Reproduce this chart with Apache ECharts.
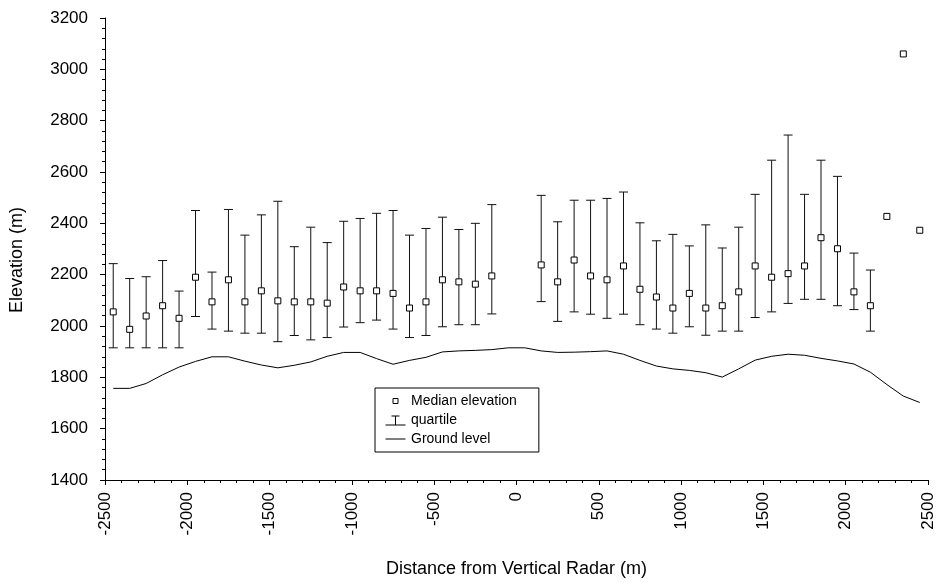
<!DOCTYPE html>
<html>
<head>
<meta charset="utf-8">
<title>Elevation vs distance from vertical radar</title>
<script src="https://cdn.jsdelivr.net/npm/echarts@6/dist/echarts.min.js"></script>
<style>
  html, body { margin: 0; padding: 0; background: #fff; }
  #main { width: 939px; height: 583px; }
</style>
</head>
<body>
<div id="main"></div>
<script>
// bin centres along the profile (m), no bins at -50 / 50
const distances = [
  -2450, -2350, -2250, -2150, -2050, -1950, -1850, -1750, -1650, -1550, -1450, -1350,
  -1250, -1150, -1050, -950, -850, -750, -650, -550, -450, -350, -250, -150,
  150, 250, 350, 450, 550, 650, 750, 850, 950, 1050, 1150, 1250,
  1350, 1450, 1550, 1650, 1750, 1850, 1950, 2050, 2150, 2250, 2350, 2450
];
const medianElev = [
  2055, 1987, 2039, 2079, 2030, 2190, 2094, 2180, 2094, 2137, 2098, 2094,
  2094, 2089, 2152, 2137, 2137, 2127, 2070, 2094, 2180, 2172, 2163, 2195,
  2238, 2172, 2257, 2195, 2180, 2234, 2143, 2113, 2070, 2127, 2070, 2079,
  2133, 2234, 2190, 2204, 2234, 2344, 2301, 2133, 2079, 2427, 3060, 2373
];
const upperQuartile = [
  2243, 2185, 2192, 2255, 2136, 2450, 2210, 2454, 2354, 2433, 2486, 2309,
  2385, 2325, 2408, 2419, 2439, 2450, 2354, 2380, 2424, 2376, 2400, 2473,
  2509, 2406, 2490, 2490, 2497, 2522, 2402, 2332, 2357, 2312, 2394, 2304,
  2385, 2513, 2646, 2744, 2513, 2646, 2583, 2284, 2218, null, null, null
];
const lowerQuartile = [
  1915, 1915, 1915, 1915, 1915, 2037, 1988, 1980, 1972, 1972, 1939, 1963,
  1946, 1955, 1996, 2013, 2023, 1988, 1955, 1963, 1997, 2005, 2005, 2047,
  2095, 2018, 2055, 2046, 2030, 2046, 2005, 1988, 1972, 1997, 1964, 1980,
  1980, 2033, 2055, 2088, 2104, 2104, 2079, 2064, 1980, null, null, null
];
// ground profile
const groundX = [
  -2450, -2350, -2250, -2150, -2050, -1950, -1850, -1750, -1650, -1550, -1450, -1350, -1250,
  -1150, -1050, -950, -850, -750, -650, -550, -450, -350, -250, -150, -50,
  50, 150, 250, 350, 450, 550, 650, 750, 850, 950, 1050, 1150, 1250,
  1350, 1450, 1550, 1650, 1750, 1850, 1950, 2050, 2150, 2250, 2350, 2450
];
const groundLevel = [
  1757, 1757, 1776, 1810, 1840, 1862, 1880, 1880, 1863, 1848, 1837, 1847, 1860,
  1882, 1897, 1897, 1873, 1851, 1866, 1878, 1899, 1903, 1905, 1908, 1915,
  1915, 1903, 1897, 1898, 1900, 1903, 1890, 1866, 1844, 1833, 1827, 1818, 1801,
  1833, 1867, 1882, 1890, 1886, 1874, 1864, 1852, 1820, 1772, 1727, 1702
];

const font = 'Arial, "Liberation Sans", sans-serif';

const medianData = distances.map((d, i) => [d, medianElev[i]]);
const quartileData = [];
distances.forEach((d, i) => {
  if (upperQuartile[i] != null) quartileData.push([d, lowerQuartile[i], upperQuartile[i]]);
});
const groundData = groundX.map((d, i) => [d, groundLevel[i]]);

const chart = echarts.init(document.getElementById('main'));

const option = {
  animation: false,
  backgroundColor: '#fff',
  textStyle: { fontFamily: font, color: '#000' },
  grid: { left: 100, right: 11, top: 18, bottom: 94 },
  legend: {
    orient: 'vertical',
    left: 375,
    top: 388,
    padding: [6, 22, 6, 10],
    itemGap: 5,
    itemWidth: 21,
    itemHeight: 12,
    borderColor: '#000',
    borderWidth: 1,
    backgroundColor: '#fff',
    textStyle: { fontFamily: font, fontSize: 14, color: '#000' },
    data: [
      {
        name: 'Median elevation',
        icon: 'path://M0,0M20,12M7.5,3.5L12.5,3.5L12.5,8.5L7.5,8.5Z',
        itemStyle: { color: '#fff', borderColor: '#000', borderWidth: 1 }
      },
      {
        name: 'quartile',
        icon: 'path://M0,0M20,12M0,11L20,11M10,11L10,2M6,2L14,2',
        itemStyle: { color: 'transparent', borderColor: '#000', borderWidth: 1 }
      },
      {
        name: 'Ground level',
        icon: 'path://M0,0M20,12M0,6L20,6',
        itemStyle: { color: 'transparent', borderColor: '#000', borderWidth: 1 }
      }
    ]
  },
  xAxis: {
    type: 'value',
    min: -2500,
    max: 2500,
    interval: 500,
    name: 'Distance from Vertical Radar (m)',
    nameLocation: 'middle',
    nameGap: 80,
    nameTextStyle: { fontSize: 18, color: '#000' },
    axisLine: { onZero: false, lineStyle: { color: '#000', width: 1 } },
    axisTick: { inside: false, length: 5, lineStyle: { color: '#000' } },
    minorTick: { show: true, splitNumber: 5, length: 3, lineStyle: { color: '#000' } },
    splitLine: { show: false },
    axisLabel: { rotate: 90, margin: 12, fontSize: 17, color: '#000', formatter: v => String(v) }
  },
  yAxis: {
    type: 'value',
    min: 1400,
    max: 3200,
    interval: 200,
    name: 'Elevation (m)',
    nameLocation: 'middle',
    nameGap: 79,
    nameTextStyle: { fontSize: 18, color: '#000', padding: [0, 0, 0, -22] },
    axisLine: { show: true, onZero: false, lineStyle: { color: '#000', width: 1 } },
    axisTick: { show: true, length: 5, lineStyle: { color: '#000' } },
    minorTick: { show: true, splitNumber: 5, length: 3, lineStyle: { color: '#000' } },
    splitLine: { show: false },
    axisLabel: { margin: 17, fontSize: 17, color: '#000', formatter: v => String(v) }
  },
  series: [
    {
      name: 'Median elevation',
      type: 'scatter',
      z: 5,
      symbol: 'rect',
      symbolSize: 6,
      itemStyle: { color: '#fff', borderColor: '#000', borderWidth: 1, opacity: 1 },
      data: medianData
    },
    {
      name: 'quartile',
      type: 'custom',
      z: 3,
      itemStyle: { color: '#000' },
      encode: { x: 0, y: [1, 2] },
      renderItem: function (params, api) {
        const x = api.value(0);
        const lo = api.coord([x, api.value(1)]);
        const hi = api.coord([x, api.value(2)]);
        const half = 4.5;
        const style = { stroke: '#111', lineWidth: 1 };
        return {
          type: 'group',
          children: [
            { type: 'line', shape: { x1: lo[0], y1: lo[1], x2: hi[0], y2: hi[1] }, style: style },
            { type: 'line', shape: { x1: hi[0] - half, y1: hi[1], x2: hi[0] + half, y2: hi[1] }, style: style },
            { type: 'line', shape: { x1: lo[0] - half, y1: lo[1], x2: lo[0] + half, y2: lo[1] }, style: style }
          ]
        };
      },
      data: quartileData
    },
    {
      name: 'Ground level',
      type: 'line',
      z: 2,
      symbol: 'none',
      lineStyle: { color: '#000', width: 1 },
      itemStyle: { color: '#000' },
      data: groundData
    }
  ]
};

chart.setOption(option);
</script>
</body>
</html>
